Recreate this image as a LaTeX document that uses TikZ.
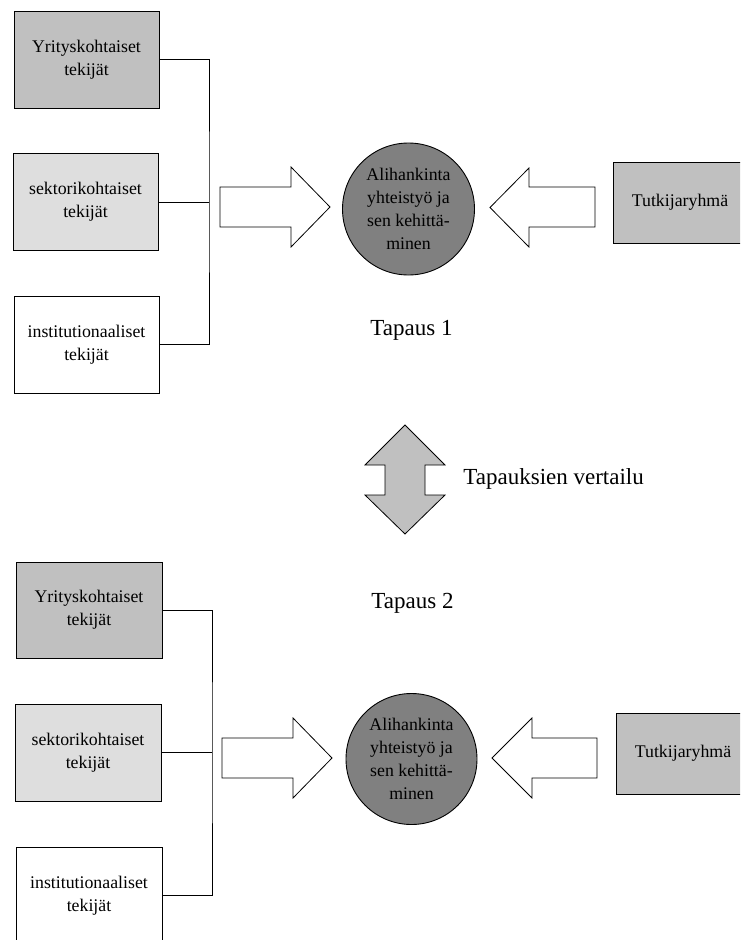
\documentclass[tikz,border=0pt]{standalone}
\usepackage{fontspec}
\setmainfont{Liberation Serif}
\begin{document}
\begin{tikzpicture}[x=1pt,y=-1pt,line width=0.9pt,
  factor/.style={draw=black,minimum width=145pt,minimum height=97pt,inner sep=0pt,
    align=center,font=\fontsize{17.8}{23}\selectfont},
  hub/.style={draw=black,fill=hubgray,circle,minimum size=132pt,inner sep=0pt,
    align=center,font=\fontsize{17.8}{23}\selectfont},
  research/.style={draw=black,fill=midgray,minimum width=150pt,minimum height=81pt,
    inner sep=0pt,font=\fontsize{17.8}{23}\selectfont},
  blockarrow/.style={draw=black,fill=white,line width=0.8pt,line join=miter},
  caption/.style={font=\fontsize{23}{27}\selectfont,inner sep=0pt,anchor=base west},
  bus/.style={draw=black,line width=0.9pt}]
\definecolor{midgray}{HTML}{C0C0C0}
\definecolor{lightgray}{HTML}{DEDEDE}
\definecolor{hubgray}{HTML}{808080}
\useasboundingbox (0,0) rectangle (740,940);
\clip (0,0) rectangle (740,940);

% ---------- Case 1 ----------
\node[factor,fill=midgray]   (a1) at (86.5,59.5) {Yrityskohtaiset\\tekijät};
\node[factor,fill=lightgray] (a2) at (85.5,202)  {sektorikohtaiset\\tekijät};
\node[factor,fill=white]     (a3) at (86.5,344.5){institutionaaliset\\tekijät};
\coordinate (ja) at (209,202);
\draw[bus] (a1.east) -| (ja) |- (a3.east);
\draw[bus] (a2.east) -- (ja);

\draw[blockarrow] (220,187) -- (291,187) -- (291,167) -- (330,207)
  -- (291,247) -- (291,227) -- (220,227) -- cycle;
\node[hub] (h1) at (408.5,209) {Alihankinta\\yhteistyö ja\\sen kehittä-\\minen};
\draw[blockarrow] (595,187) -- (529,187) -- (529,168) -- (490,207.5)
  -- (529,247) -- (529,227) -- (595,227) -- cycle;
% the research box runs past the right margin; its text sits left of centre
\node[research] (r1) at (688,202.5) {\hspace*{-16pt}Tutkijaryhmä};
\node[caption] (c1) at (370,335) {Tapaus 1};

% ---------- comparison ----------
\draw[blockarrow,fill=midgray] (405,425) -- (445,465) -- (425,465) -- (425,495)
  -- (445,495) -- (405,534) -- (365,495) -- (385,495) -- (385,465) -- (365,465) -- cycle;
\node[caption] (cmp) at (463,484) {Tapauksien vertailu};
\node[caption] (c2) at (371,608) {Tapaus 2};

% ---------- Case 2 ----------
\node[factor,fill=midgray,minimum width=146pt,minimum height=96pt] (b1) at (89,610) {Yrityskohtaiset\\tekijät};
\node[factor,fill=lightgray,minimum width=146pt] (b2) at (88,752.5) {sektorikohtaiset\\tekijät};
\node[factor,fill=white,minimum width=146pt] (b3) at (89,895.5) {institutionaaliset\\tekijät};
\coordinate (jb) at (212,752.5);
\draw[bus] (b1.east) -| (jb) |- (b3.east);
\draw[bus] (b2.east) -- (jb);

\draw[blockarrow] (222,738) -- (293,738) -- (293,718) -- (332,758)
  -- (293,798) -- (293,778) -- (222,778) -- cycle;
\node[hub,minimum size=131pt] (h2) at (411.5,759) {Alihankinta\\yhteistyö ja\\sen kehittä-\\minen};
\draw[blockarrow] (597,738) -- (532,738) -- (532,718) -- (492,758)
  -- (532,798) -- (532,778) -- (597,778) -- cycle;
\node[research] (r2) at (691,753.5) {\hspace*{-16pt}Tutkijaryhmä};
\end{tikzpicture}
\end{document}
